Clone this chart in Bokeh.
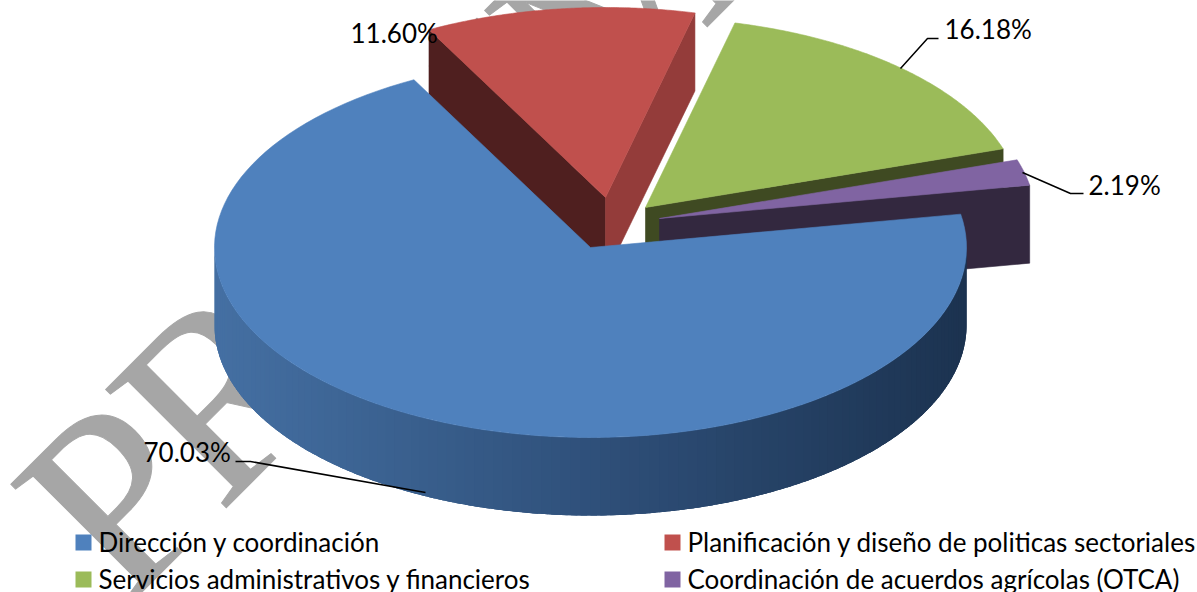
import numpy as np
from bokeh.plotting import figure
from bokeh.core.properties import value
from bokeh.embed import file_html
from bokeh.resources import INLINE

# ---- data ----
categories = ["Dirección y coordinación", "Planificación y diseño de politicas sectoriales",
              "Servicios administrativos y financieros", "Coordinación de acuerdos agrícolas (OTCA)"]
shares = [70.03, 11.60, 16.18, 2.19]
share_labels = ["70.03%", "11.60%", "16.18%", "2.19%"]
top_colors = ["#4f81bd", "#c0504d", "#9bbb59", "#8064a2"]
cut_colors = ["#4f81bd", "#4f1f1f", "#3f4a22", "#33283f"]
rim_colors = ["#4f81bd", "#943c3a", "#3f4a22", "#33283f"]
# slice apex on the screen (explosion)
apex_x = [590, 605, 645, 659]
apex_y = [247, 197, 207, 218]

watermark_letters = list("PRELIMINAR")
watermark_adv = [0.556, 0.667, 0.611, 0.611, 0.333, 0.889, 0.333, 0.722, 0.722, 0.667]  # Times-like advances, em

RX, RY, DEPTH = 376, 190, 78
START = 118.0  # angle at which the red slice starts, going clockwise

W, H = 1197, 592
p = figure(width=W, height=H, x_range=(0, W), y_range=(H, 0), output_backend="svg",
           toolbar_location=None, min_border=0, margin=(0, 0, 0, 0),
           background_fill_color="white", border_fill_color="white", outline_line_color=None)
p.axis.visible = False
p.grid.visible = False

# watermark, under the pie: letters on a 45 degree baseline, slightly condensed
WM_SIZE = 258
WM_SQUEEZE = 0.935
pos = np.concatenate([[0], np.cumsum(watermark_adv[:-1])]) * WM_SIZE * WM_SQUEEZE
wm_x = 63 + pos * np.cos(np.radians(45))
wm_y = 547 - pos * np.sin(np.radians(45))
p.text(wm_x, wm_y, text=watermark_letters, angle=np.radians(45), text_font=value("Liberation Serif"),
       text_font_size=f"{WM_SIZE}px", text_color="#a6a6a6", outline_color="#a6a6a6",
       text_baseline="alphabetic", text_align="left")

# angular extent of every slice, from the shares
order = [1, 2, 3, 0]
ext = {}
a = START
for i in order:
    b = a - shares[i] / 100 * 360
    ext[i] = (a, b)
    a = b


def ell(i, t, dz=0):
    r = np.radians(t)
    return apex_x[i] + RX * np.cos(r), apex_y[i] - RY * np.sin(r) + dz


def arc(i, dz=0, n=120):
    t = np.linspace(ext[i][0], ext[i][1], n)
    return ell(i, t, dz)


def poly(xs, ys, c):
    p.patch(list(xs), list(ys), fill_color=c, line_color=c, line_width=0.6)


def top(i):
    x, y = arc(i)
    poly([apex_x[i], *x], [apex_y[i], *y], top_colors[i])


def cut(i, t, c):
    x0, y0 = apex_x[i], apex_y[i]
    x1, y1 = ell(i, t)
    poly([x0, x1, x1, x0], [y0, y1, y1 + DEPTH, y0 + DEPTH], c)


# red
cut(1, ext[1][0], cut_colors[1])
cut(1, ext[1][1], rim_colors[1])
top(1)
# green
cut(2, ext[2][1], cut_colors[2])
top(2)
# purple
cut(3, ext[3][1], cut_colors[3])
top(3)

# blue: outer wall with a left-to-right shade, strip by strip (each strip overlaps the next)
wall_left = np.array([0x45, 0x70, 0xa3])
wall_mid = np.array([0x2f, 0x50, 0x7a])
wall_right = np.array([0x1c, 0x33, 0x50])
rim_end = 360.0
for t0 in np.arange(180.0, rim_end, 1.5):
    t = np.linspace(t0, min(t0 + 4, rim_end), 5)
    x, y = ell(0, t)
    f = (x[0] - 214) / (2 * RX)
    col = wall_left + (wall_mid - wall_left) * f / 0.5 if f < 0.5 else wall_mid + (wall_right - wall_mid) * (f - 0.5) / 0.5
    col = "#%02x%02x%02x" % tuple(int(v) for v in col)
    p.patch([*x, *x[::-1]], [*y, *(y[::-1] + DEPTH)], fill_color=col, line_color=None)
top(0)

# leader lines
for xs, ys in [([235, 250, 425], [461, 461, 492]),
               ([900, 927, 938], [68, 38, 38]),
               ([1022, 1070, 1083], [172, 193, 193])]:
    p.line(xs, ys, line_color="black", line_width=1.5)

# value labels
label_x = [143, 350, 944, 1088]
label_y = [451, 32, 28, 184]
p.text(label_x, label_y, text=share_labels, text_font=value("Lato"), text_font_size="26px",
       text_color="black", text_baseline="middle", text_align="left")

# legend
leg_x = [75, 664, 75, 664]
leg_y = [542, 542, 579, 579]
p.rect([v + 8 for v in leg_x], leg_y, width=16, height=16, fill_color=top_colors, line_color=None)
p.text([v + 23 for v in leg_x], [v - 1 for v in leg_y], text=categories, text_font=value("Lato"), text_font_size="26px",
       text_color="black", text_baseline="middle", text_align="left")

open("out.html", "w").write(file_html(p, INLINE))
